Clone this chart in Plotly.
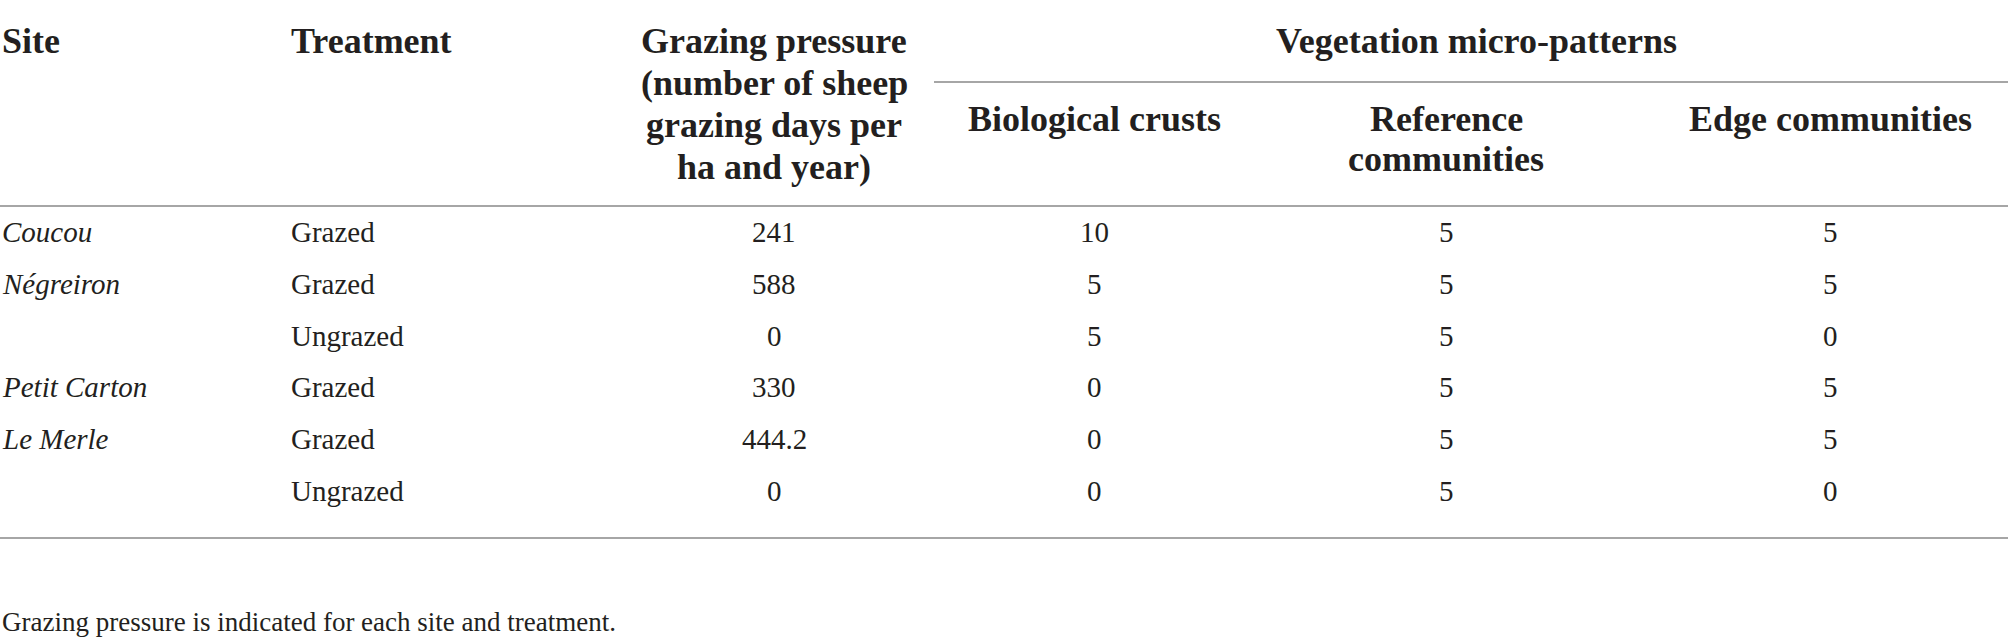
import plotly.graph_objects as go

# Table content
sites = ["Coucou", "Négreiron", "", "Petit Carton", "Le Merle", ""]
treatments = ["Grazed", "Grazed", "Ungrazed", "Grazed", "Grazed", "Ungrazed"]
grazing_pressure = ["241", "588", "0", "330", "444.2", "0"]
biological_crusts = [10, 5, 5, 0, 0, 0]
reference_communities = [5, 5, 5, 5, 5, 5]
edge_communities = [5, 5, 0, 5, 5, 0]

gp_header = ["Grazing pressure", "(number of sheep", "grazing days per", "ha and year)"]
ref_header = ["Reference", "communities"]
group_header = "Vegetation micro-patterns"
footnote = "Grazing pressure is indicated for each site and treatment."

W, H = 2008, 640
FONT = "Liberation Serif"
TXT = "#231f20"
LINE = "#a6a6a6"
FS = 29
HFS = 36

# column anchors (pixels)
col_site = 0
col_treat = 289
col_gp = 774
col_bio = 1094
col_ref = 1446
col_edge = 1830
row_y0 = 232
row_dy = 51.8

fig = go.Figure()

def txt(x, y, s, anchor="center", bold=False, italic=False, size=FS):
    if bold:
        s = "<b>" + s + "</b>"
    if italic:
        s = "<i>" + s + "</i>"
    fig.add_annotation(x=x, y=y, text=s, showarrow=False, xanchor=anchor,
                       yanchor="middle", xref="x", yref="y",
                       font=dict(family=FONT, size=size, color=TXT))

# headers
txt(col_site, 41, "Site", "left", bold=True, size=HFS)
txt(col_treat, 41, "Treatment", "left", bold=True, size=HFS)
for k, s in enumerate(gp_header):
    txt(col_gp, 41 + k * 42, s, bold=True, size=HFS)
txt(1476, 41, group_header, bold=True, size=HFS)
txt(col_bio, 119, "Biological crusts", bold=True, size=HFS)
for k, s in enumerate(ref_header):
    txt(col_ref, 119 + k * 40, s, bold=True, size=HFS)
txt(col_edge, 119, "Edge communities", bold=True, size=HFS)

# body
for i in range(len(treatments)):
    y = row_y0 + i * row_dy
    if sites[i]:
        txt(col_site, y, sites[i], "left", italic=True)
    txt(col_treat, y, treatments[i], "left")
    txt(col_gp, y, grazing_pressure[i])
    txt(col_bio, y, str(biological_crusts[i]))
    txt(col_ref, y, str(reference_communities[i]))
    txt(col_edge, y, str(edge_communities[i]))

txt(0, 622, footnote, "left", size=27)

# rules
for x0, x1, y in [(934, W, 82), (0, W, 206), (0, W, 538)]:
    fig.add_shape(type="line", x0=x0, x1=x1, y0=y, y1=y, xref="x", yref="y",
                  line=dict(color=LINE, width=2))

fig.update_xaxes(range=[0, W], visible=False, fixedrange=True)
fig.update_yaxes(range=[H, 0], visible=False, fixedrange=True)
fig.update_layout(width=W, height=H, margin=dict(l=0, r=0, t=0, b=0),
                  plot_bgcolor="white", paper_bgcolor="white", showlegend=False)

fig.write_html("out.html", config={"displayModeBar": False},
               post_script="document.body.style.margin='0';")
